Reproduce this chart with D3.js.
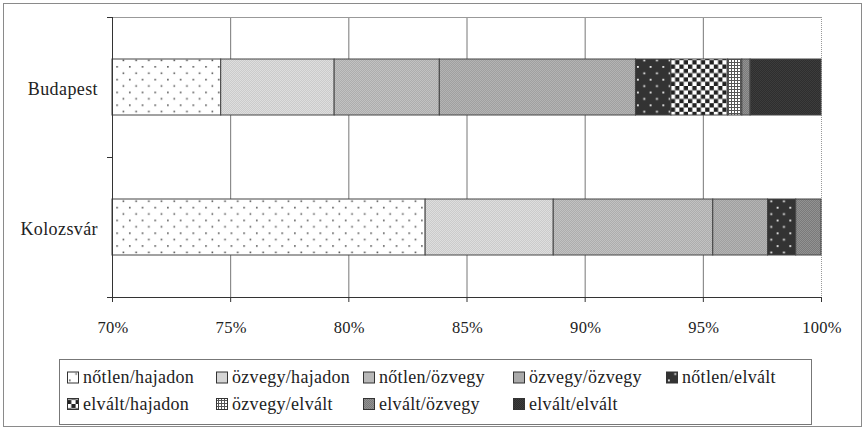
<!DOCTYPE html>
<html>
<head>
<meta charset="utf-8">
<script src="https://cdn.jsdelivr.net/npm/d3@7"></script>
<style>
  body { margin: 0; background: #fff; }
  svg { display: block; }
</style>
</head>
<body>
<div id='chart'></div>
<script>

// Data
const categories = ['Budapest', 'Kolozsvár'];
const seriesNames = ['nőtlen/hajadon', 'özvegy/hajadon', 'nőtlen/özvegy', 'özvegy/özvegy', 'nőtlen/elvált',
                     'elvált/hajadon', 'özvegy/elvált', 'elvált/özvegy', 'elvált/elvált'];
const budapestValues = [74.6, 4.8, 4.45, 8.3, 1.5, 2.4, 0.6, 0.35, 3.0];
const kolozsvarValues = [83.25, 5.42, 6.75, 2.32, 1.19, 0, 0, 1.07, 0];
const tickValues = [70, 75, 80, 85, 90, 95, 100];

// Page Dimensions
const W = 865, H = 429;
const plot = {left: 112, right: 821, top: 17, bottom: 297};
const font_family = '"Liberation Serif"';

// legend column positions (swatch x), two rows
const legendCols = [67, 216, 363, 513, 666];
const legendRows = [377.5, 404];

const svg = d3.select('div#chart').append('svg')
  .attr('width', W)
  .attr('height', H);

// Patterns
const defs = svg.append('defs');

function dotPattern(id, bg, dot, size) {
  const p = defs.append('pattern').attr('id', id)
    .attr('patternUnits', 'userSpaceOnUse')
    .attr('width', 12.7).attr('height', 12.8);
  p.append('rect').attr('width', 12.7).attr('height', 12.8).attr('fill', bg);
  p.append('rect').attr('x', 2).attr('y', 2).attr('width', size).attr('height', size).attr('fill', dot);
  p.append('rect').attr('x', 8.35).attr('y', 8.4).attr('width', size).attr('height', size).attr('fill', dot);
}

function ditherPattern(id, c1, c2) {
  const p = defs.append('pattern').attr('id', id)
    .attr('patternUnits', 'userSpaceOnUse')
    .attr('width', 2).attr('height', 2);
  p.append('rect').attr('width', 2).attr('height', 2).attr('fill', c1);
  p.append('rect').attr('width', 1).attr('height', 1).attr('fill', c2);
  p.append('rect').attr('x', 1).attr('y', 1).attr('width', 1).attr('height', 1).attr('fill', c2);
}

dotPattern('p0', '#ffffff', '#555', 1.6);
ditherPattern('p1', '#cbcbcb', '#dedede');
ditherPattern('p2', '#adadad', '#c2c2c2');
ditherPattern('p3', '#a0a0a0', '#b4b4b4');
dotPattern('p4', '#333333', '#f4f4f4', 1.8);

// checkerboard
const chk = defs.append('pattern').attr('id', 'p5')
  .attr('patternUnits', 'userSpaceOnUse')
  .attr('width', 8.6).attr('height', 8.6);
chk.append('rect').attr('width', 8.6).attr('height', 8.6).attr('fill', '#fff');
chk.append('rect').attr('x', 4.3).attr('width', 4.3).attr('height', 4.3).attr('fill', '#222');
chk.append('rect').attr('y', 4.3).attr('width', 4.3).attr('height', 4.3).attr('fill', '#222');

// small grid
const grid = defs.append('pattern').attr('id', 'p6')
  .attr('patternUnits', 'userSpaceOnUse')
  .attr('width', 3).attr('height', 3);
grid.append('rect').attr('width', 3).attr('height', 3).attr('fill', '#555');
grid.append('rect').attr('width', 2).attr('height', 2).attr('fill', '#fff');

ditherPattern('p7', '#7a7a7a', '#929292');
ditherPattern('p8', '#2e2e2e', '#3c3c3c');

const fills = seriesNames.map((d, i) => `url(#p${i})`);

// Outer frame
svg.append('rect')
  .attr('x', 3.5).attr('y', 3.5)
  .attr('width', 858).attr('height', 423)
  .attr('fill', 'none')
  .attr('stroke', '#8a8a8a');

// Scales
const x = d3.scaleLinear().domain([70, 100]).range([plot.left, plot.right]);
const y = d3.scaleBand().domain(categories).range([plot.top, plot.bottom]);
const barH = y.bandwidth() * 0.4;

// Gridlines
svg.append('g')
  .selectAll('line')
  .data(tickValues.slice(1, -1))
  .enter()
  .append('line')
  .attr('x1', d => x(d) + 0.5).attr('x2', d => x(d) + 0.5)
  .attr('y1', plot.top).attr('y2', plot.bottom)
  .style('stroke', '#777')
  .style('stroke-width', 1);

// plot area top / right border
svg.append('line')
  .attr('x1', plot.left).attr('x2', plot.right)
  .attr('y1', plot.top + 0.5).attr('y2', plot.top + 0.5)
  .style('stroke', '#999');
svg.append('line')
  .attr('x1', plot.right + 0.5).attr('x2', plot.right + 0.5)
  .attr('y1', plot.top).attr('y2', plot.bottom)
  .style('stroke', '#999')
  .style('stroke-dasharray', '1,1');

// Stack
const rows = categories.map((c, i) => {
  const vals = i === 0 ? budapestValues : kolozsvarValues;
  const row = {category: c};
  seriesNames.forEach((s, j) => row[s] = vals[j]);
  return row;
});
const stacked = d3.stack().keys(seriesNames)(rows);

svg.append('g')
  .selectAll('g')
  .data(stacked)
  .enter()
  .append('g')
  .attr('fill', (d, i) => fills[i])
  .selectAll('rect')
  .data(d => d.filter(p => p[1] - p[0] > 0))
  .enter()
  .append('rect')
  .attr('x', d => x(Math.max(70, d[0])))
  .attr('width', d => x(d[1]) - x(Math.max(70, d[0])))
  .attr('y', d => y(d.data.category) + (y.bandwidth() - barH) / 2)
  .attr('height', barH)
  .style('stroke', '#444')
  .style('stroke-width', 1);

// Axes
const xAxis = svg.append('g');
xAxis.append('line')
  .attr('x1', plot.left).attr('x2', plot.right + 1)
  .attr('y1', plot.bottom + 0.5).attr('y2', plot.bottom + 0.5)
  .style('stroke', '#333');
xAxis.selectAll('line.tick')
  .data(tickValues)
  .enter()
  .append('line')
  .attr('class', 'tick')
  .attr('x1', d => x(d) + 0.5).attr('x2', d => x(d) + 0.5)
  .attr('y1', plot.bottom).attr('y2', plot.bottom + 5)
  .style('stroke', '#333');
xAxis.selectAll('text')
  .data(tickValues)
  .enter()
  .append('text')
  .text(d => d + '%')
  .attr('x', d => x(d) + 1)
  .attr('y', 333)
  .attr('text-anchor', 'middle')
  .style('font-family', font_family)
  .style('font-size', '16.5px')
  .style('letter-spacing', '0.3px')
  .attr('fill', '#222');

const yAxis = svg.append('g');
yAxis.append('line')
  .attr('x1', plot.left + 0.5).attr('x2', plot.left + 0.5)
  .attr('y1', plot.top).attr('y2', plot.bottom + 5)
  .style('stroke', '#333');
const edges = [plot.top].concat(categories.map(c => y(c) + y.bandwidth()));
yAxis.selectAll('line.tick')
  .data(edges)
  .enter()
  .append('line')
  .attr('class', 'tick')
  .attr('x1', plot.left - 5).attr('x2', plot.left)
  .attr('y1', d => d + 0.5).attr('y2', d => d + 0.5)
  .style('stroke', '#333');
yAxis.selectAll('text')
  .data(categories)
  .enter()
  .append('text')
  .text(d => d)
  .attr('x', 98)
  .attr('y', d => y(d) + y.bandwidth() / 2 + 7.5)
  .attr('text-anchor', 'end')
  .style('font-family', font_family)
  .style('font-size', '18px')
  .style('letter-spacing', '0.4px')
  .attr('fill', '#222');

// Legend
const legend = svg.append('g');
legend.append('rect')
  .attr('x', 59.5).attr('y', 359.5)
  .attr('width', 752).attr('height', 65)
  .attr('fill', '#fff')
  .attr('stroke', '#777');

const items = legend.selectAll('g')
  .data(seriesNames)
  .enter()
  .append('g')
  .attr('transform', (d, i) => `translate(${legendCols[i % 5]},${legendRows[Math.floor(i / 5)]})`);

items.append('rect')
  .attr('x', 0.5).attr('y', -5.5)
  .attr('width', 11).attr('height', 11)
  .attr('fill', (d, i) => fills[i])
  .style('stroke', '#333');

items.append('text')
  .text(d => d)
  .attr('x', 16)
  .attr('y', 5.5)
  .style('font-family', font_family)
  .style('font-size', '18px')
  .style('letter-spacing', '0.3px')
  .attr('fill', '#222');

</script>
</body>
</html>
